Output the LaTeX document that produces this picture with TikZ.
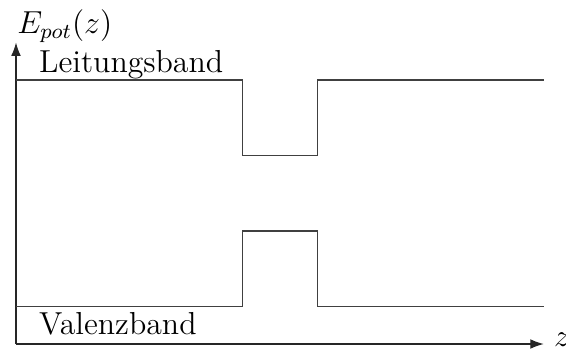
\documentclass[tikz,border=0pt]{standalone}
\usetikzlibrary{arrows.meta}
\begin{document}
\begin{tikzpicture}[
  band/.style={line width=0.5pt, black!75},
  axis/.style={line width=0.5pt, black!85, -{Latex[length=1.8mm,width=1.3mm]}},
  lbl/.style={font=\large, inner sep=0pt, anchor=base west}
]
\useasboundingbox (-0.212,-0.133) rectangle (7.294,4.562);
\coordinate (O) at (0,0);
\coordinate (xend) at (7,0);
\coordinate (yend) at (0,4);
% axes
\draw[axis] (O) -- (xend);
\draw[axis] (O) -- (yend);
% conduction band
\draw[band] (0,3.5) -- (3,3.5) -- (3,2.5) -- (4,2.5) -- (4,3.5) -- (7,3.5);
% valence band
\draw[band] (0,0.5) -- (3,0.5) -- (3,1.5) -- (4,1.5) -- (4,0.5) -- (7,0.5);
% labels
\node[lbl] (lb) at (0.30,3.60) {Leitungsband};
\node[lbl] (vb) at (0.30,0.13) {Valenzband};
\node[lbl] (ep) at (0.01,4.12) {$E_{pot}(z)$};
\node[lbl] (zl) at (7.13,-0.03) {$z$};
\end{tikzpicture}
\end{document}
